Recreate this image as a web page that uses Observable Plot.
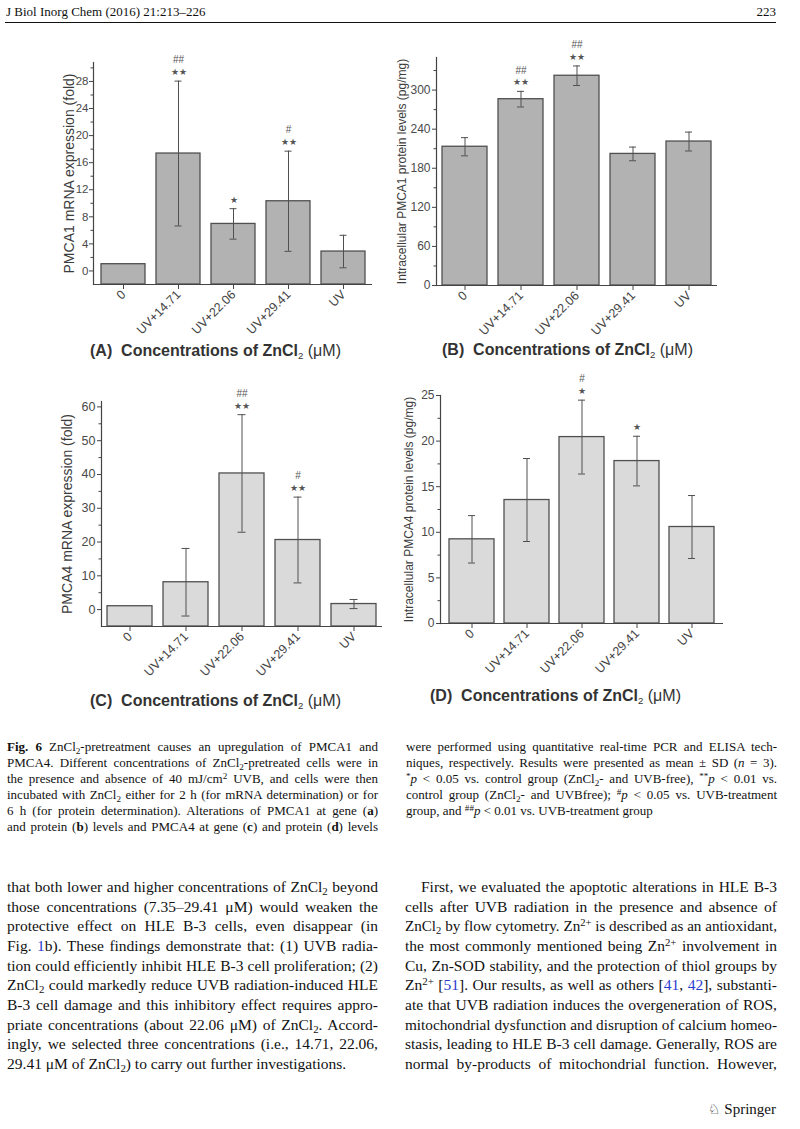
<!DOCTYPE html>
<html><head><meta charset="utf-8">
<script src="https://cdn.jsdelivr.net/npm/d3@7"></script>
<script src="https://cdn.jsdelivr.net/npm/@observablehq/plot@0.6"></script>
<style>
body{margin:0;background:#fff;}
#page{position:relative;width:800px;height:1129px;overflow:hidden;background:#fff;font-family:"Liberation Serif","Times New Roman",serif;color:#111;}
.abs{position:absolute;}
.ln{position:absolute;white-space:nowrap;transform-origin:0 50%;}
.cap{font-size:13px;line-height:16px;height:16px;}
.body{font-size:15.5px;line-height:20px;height:20px;}
sub{font-size:0.7em;vertical-align:-0.3em;line-height:0;}
sup{font-size:0.7em;vertical-align:0.45em;line-height:0;}
a{color:#2b3bd0;text-decoration:none;}
.title{position:absolute;white-space:nowrap;font-family:"Liberation Sans",Arial,sans-serif;font-weight:bold;font-size:16px;color:#333;line-height:20px;}
.title sub{font-weight:normal;font-size:0.6em;}
.title .u{font-weight:normal;}
.chart{position:absolute;overflow:hidden;}
</style></head>
<body><div id="page"></div>
<script>
// ---------- data ----------
const categories = ["0", "UV+14.71", "UV+22.06", "UV+29.41", "UV"];

const pmca1mRNA      = [1.0, 17.35, 6.95, 10.3, 2.87];
const pmca1mRNASD    = [0, 10.7, 2.25, 7.4, 2.4];
const pmca1mRNAStar  = ["", "★★", "★", "★★", ""];
const pmca1mRNAHash  = ["", "##", "", "#", ""];

const pmca1Protein     = [213, 286, 322, 202, 221];
const pmca1ProteinSD   = [14, 12, 15, 10.5, 14.5];
const pmca1ProteinStar = ["", "★★", "★★", "", ""];
const pmca1ProteinHash = ["", "##", "##", "", ""];

const pmca4mRNA      = [1.0, 8.1, 40.3, 20.6, 1.65];
const pmca4mRNASD    = [0, 10.0, 17.4, 12.7, 1.35];
const pmca4mRNAStar  = ["", "", "★★", "★★", ""];
const pmca4mRNAHash  = ["", "", "##", "#", ""];

const pmca4Protein     = [9.23, 13.54, 20.44, 17.81, 10.58];
const pmca4ProteinSD   = [2.6, 4.55, 4.05, 2.72, 3.45];
const pmca4ProteinStar = ["", "", "★", "★", ""];
const pmca4ProteinHash = ["", "", "#", "", ""];

const ticksA = [0, 4, 8, 12, 16, 20, 24, 28];
const minorA = [2, 6, 10, 14, 18, 22, 26, 30];
const ticksB = [0, 60, 120, 180, 240, 300];
const minorB = [30, 90, 150, 210, 270, 330];
const ticksC = [0, 10, 20, 30, 40, 50, 60];
const minorC = [5, 15, 25, 35, 45, 55];
const ticksD = [0, 5, 10, 15, 20, 25];
const minorD = [2.5, 7.5, 12.5, 17.5, 22.5];

// ---------- chart builder ----------
function chart(o) {
  const data = categories.map((c, i) => ({
    c, v: o.vals[i], lo: o.vals[i] - o.sds[i], hi: o.vals[i] + o.sds[i], s: o.stars[i], h: o.hashes[i]
  }));
  const err = data.filter(d => d.hi > d.lo);
  const base = o.domain[0];
  const ink = "#505050";
  return Plot.plot({
    width: o.width, height: o.height,
    marginTop: o.mt, marginLeft: o.ml, marginRight: o.mr, marginBottom: o.mb,
    style: {background: "transparent", fontFamily: "'Liberation Sans', Arial, sans-serif", fontSize: "12px", color: "#4a4a4a", overflow: "visible"},
    x: {domain: categories, paddingInner: o.pi, paddingOuter: o.po},
    y: {domain: o.domain},
    marks: [
      Plot.barY(data, {x: "c", y1: () => base, y2: "v", fill: o.fill, stroke: ink, strokeWidth: 1.3}),
      Plot.ruleX(err, {x: "c", y1: "lo", y2: "hi", stroke: ink, strokeWidth: 1}),
      Plot.tickY(err, {x: "c", y: "lo", insetLeft: o.cap, insetRight: o.cap, stroke: ink, strokeWidth: 1}),
      Plot.tickY(err, {x: "c", y: "hi", insetLeft: o.cap, insetRight: o.cap, stroke: ink, strokeWidth: 1}),
      Plot.text(data, {x: "c", y: "hi", text: "s", dy: -9, fontSize: 9, fill: "#555"}),
      Plot.text(data, {x: "c", y: "hi", text: "h", dy: -21, fontSize: 10, fill: "#555"}),
      Plot.axisY({ticks: o.ticks, tickSize: 4, tickPadding: o.tickPad, label: null, fontSize: o.tickFont, stroke: "#444", fill: "#4a4a4a"}),
      Plot.axisY({ticks: o.minor, tickSize: 2.5, tickFormat: () => "", label: null, stroke: "#444"}),
      Plot.axisX({tickRotate: -45, tickSize: 5, tickPadding: 3, label: null, fontSize: 12.5, stroke: "#444", fill: "#444"}),
      Plot.ruleY([base], {stroke: "#444", strokeWidth: 1.2}),
      Plot.frame({anchor: "left", stroke: "#444", strokeWidth: 1.2}),
      Plot.text([o.label], {frameAnchor: "left", textAnchor: "middle", lineAnchor: "middle", text: d => d, rotate: -90, dx: o.labelDx, fontSize: o.labelSize, fill: "#3c3c3c"})
    ]
  });
}

const page = document.getElementById("page");
function place(svg, left, top) {
  const d = document.createElement("div");
  d.className = "chart";
  d.style.left = left + "px"; d.style.top = top + "px";
  d.appendChild(svg);
  page.appendChild(d);
}

place(chart({vals: pmca1mRNA, sds: pmca1mRNASD, stars: pmca1mRNAStar, hashes: pmca1mRNAHash,
  domain: [-2, 30.8], ticks: ticksA, minor: minorA, fill: "#b2b2b2",
  label: "PMCA1 mRNA expression (fold)", labelDx: -24, labelSize: 14, tickFont: 11.5, tickPad: 1,
  width: 390, height: 324, mt: 32, ml: 93, mr: 18, mb: 70, pi: 0.2, po: 0.1, cap: 18.5}), 0, 30);

place(chart({vals: pmca1Protein, sds: pmca1ProteinSD, stars: pmca1ProteinStar, hashes: pmca1ProteinHash,
  domain: [0, 350], ticks: ticksB, minor: minorB, fill: "#b2b2b2",
  label: "Intracellular PMCA1 protein levels (pg/mg)", labelDx: -34, labelSize: 12, tickFont: 12, tickPad: 2,
  width: 335, height: 325, mt: 27, ml: 41, mr: 13, mb: 70, pi: 0.195, po: 0.095, cap: 19}), 395, 30);

place(chart({vals: pmca4mRNA, sds: pmca4mRNASD, stars: pmca4mRNAStar, hashes: pmca4mRNAHash,
  domain: [-5, 61.6], ticks: ticksC, minor: minorC, fill: "#dadada",
  label: "PMCA4 mRNA expression (fold)", labelDx: -34, labelSize: 14, tickFont: 12.5, tickPad: 2,
  width: 390, height: 326, mt: 31, ml: 101, mr: 8, mb: 70, pi: 0.205, po: 0.1, cap: 18.5}), 0, 370);

place(chart({vals: pmca4Protein, sds: pmca4ProteinSD, stars: pmca4ProteinStar, hashes: pmca4ProteinHash,
  domain: [0, 25], ticks: ticksD, minor: minorD, fill: "#dadada",
  label: "Intracellular PMCA4 protein levels (pg/mg)", labelDx: -31, labelSize: 12, tickFont: 12, tickPad: 2,
  width: 330, height: 323, mt: 25, ml: 40, mr: 7, mb: 70, pi: 0.19, po: 0.138, cap: 19}), 400, 370);

// ---------- titles ----------
function title(letter, left, cy) {
  const d = document.createElement("div");
  d.className = "title";
  d.style.left = left + "px"; d.style.top = (cy - 10) + "px";
  d.innerHTML = "(" + letter + ")&nbsp; Concentrations of ZnCl<sub>2</sub> <span class='u'>(μM)</span>";
  page.appendChild(d);
}
title("A", 90, 351);
title("B", 442, 350);
title("C", 90, 701);
title("D", 430, 696);

// ---------- text ----------
function addLine(html, cls, left, cy, w, justify, lh) {
  const d = document.createElement("div");
  d.className = "ln " + cls;
  d.style.left = left + "px"; d.style.top = (cy - lh / 2) + "px";
  d.innerHTML = html;
  page.appendChild(d);
  const nat = d.getBoundingClientRect().width;
  if (nat > w) {
    d.style.transform = "scaleX(" + (w / nat) + ")";
  } else if (justify) {
    const n = (d.textContent.match(/ /g) || []).length;
    if (n) d.style.wordSpacing = ((w - nat) / n) + "px";
  }
}

// header
const hdr = document.createElement("div");
hdr.className = "abs"; hdr.style.cssText = "left:6px;top:4px;font-size:13px;line-height:16px;";
hdr.textContent = "J Biol Inorg Chem (2016) 21:213–226";
page.appendChild(hdr);
const pg = document.createElement("div");
pg.className = "abs"; pg.style.cssText = "right:24px;top:4px;font-size:13px;line-height:16px;";
pg.textContent = "223";
page.appendChild(pg);
const rule = document.createElement("div");
rule.className = "abs"; rule.style.cssText = "left:5px;width:771px;top:22px;height:1.4px;background:#111;";
page.appendChild(rule);

const capLeft = [
  "<b>Fig. 6</b> ZnCl<sub>2</sub>-pretreatment causes an upregulation of PMCA1 and",
  "PMCA4. Different concentrations of ZnCl<sub>2</sub>-pretreated cells were in",
  "the presence and absence of 40 mJ/cm<sup>2</sup> UVB, and cells were then",
  "incubated with ZnCl<sub>2</sub> either for 2 h (for mRNA determination) or for",
  "6 h (for protein determination). Alterations of PMCA1 at gene (<b>a</b>)",
  "and protein (<b>b</b>) levels and PMCA4 at gene (<b>c</b>) and protein (<b>d</b>) levels"
];
const capRight = [
  "were performed using quantitative real-time PCR and ELISA tech-",
  "niques, respectively. Results were presented as mean ± SD (<i>n</i> = 3).",
  "<sup>*</sup><i>p</i> &lt; 0.05 vs. control group (ZnCl<sub>2</sub>- and UVB-free), <sup>**</sup><i>p</i> &lt; 0.01 vs.",
  "control group (ZnCl<sub>2</sub>- and UVBfree); <sup>#</sup><i>p</i> &lt; 0.05 vs. UVB-treatment",
  "group, and <sup>##</sup><i>p</i> &lt; 0.01 vs. UVB-treatment group"
];
capLeft.forEach((t, i) => addLine(t, "cap", 7, 747 + i * 16, 371, true, 16));
capRight.forEach((t, i) => addLine(t, "cap", 406, 747 + i * 16, 371, i < capRight.length - 1, 16));

const bodyLeft = [
  "that both lower and higher concentrations of ZnCl<sub>2</sub> beyond",
  "those concentrations (7.35–29.41 μM) would weaken the",
  "protective effect on HLE B-3 cells, even disappear (in",
  "Fig. <a>1</a>b). These findings demonstrate that: (1) UVB radia-",
  "tion could efficiently inhibit HLE B-3 cell proliferation; (2)",
  "ZnCl<sub>2</sub> could markedly reduce UVB radiation-induced HLE",
  "B-3 cell damage and this inhibitory effect requires appro-",
  "priate concentrations (about 22.06 μM) of ZnCl<sub>2</sub>. Accord-",
  "ingly, we selected three concentrations (i.e., 14.71, 22.06,",
  "29.41 μM of ZnCl<sub>2</sub>) to carry out further investigations."
];
const bodyRight = [
  "First, we evaluated the apoptotic alterations in HLE B-3",
  "cells after UVB radiation in the presence and absence of",
  "ZnCl<sub>2</sub> by flow cytometry. Zn<sup>2+</sup> is described as an antioxidant,",
  "the most commonly mentioned being Zn<sup>2+</sup> involvement in",
  "Cu, Zn-SOD stability, and the protection of thiol groups by",
  "Zn<sup>2+</sup> [<a>51</a>]. Our results, as well as others [<a>41</a>, <a>42</a>], substanti-",
  "ate that UVB radiation induces the overgeneration of ROS,",
  "mitochondrial dysfunction and disruption of calcium homeo-",
  "stasis, leading to HLE B-3 cell damage. Generally, ROS are",
  "normal by-products of mitochondrial function. However,"
];
const bodyY = 887, bodyStep = 19.65;
bodyLeft.forEach((t, i) => addLine(t, "body", 7, bodyY + i * bodyStep, 371, i < bodyLeft.length - 1, 20));
bodyRight.forEach((t, i) => addLine(t, "body", i === 0 ? 421 : 405, bodyY + i * bodyStep, i === 0 ? 356 : 372, true, 20));

// footer logo
const sp = document.createElement("div");
sp.className = "abs"; sp.style.cssText = "left:708px;top:1099px;font-size:15px;line-height:20px;white-space:nowrap;";
sp.innerHTML = "<span style='font-family:DejaVu Sans;font-size:14px'>♘</span> Springer";
page.appendChild(sp);
</script>
</body></html>
